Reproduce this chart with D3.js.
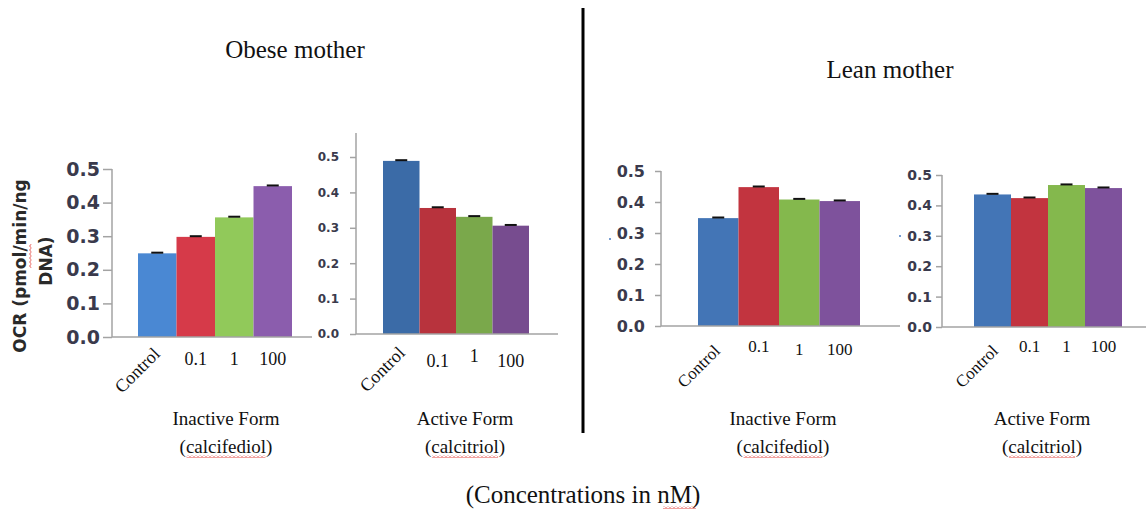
<!DOCTYPE html>
<html>
<head>
<meta charset="utf-8">
<script src="https://cdn.jsdelivr.net/npm/d3@7"></script>
<style>
  html, body { margin: 0; padding: 0; background: #fff; }
  svg { display: block; }
</style>
</head>
<body>
<svg id="chart" width="1146" height="514"></svg>
<script>
// ---------- data ----------
const categories = ["Control", "0.1", "1", "100"];
const yTickValues = [0, 0.1, 0.2, 0.3, 0.4, 0.5];
const obeseInactive = [0.249, 0.298, 0.356, 0.449];
const obeseActive   = [0.489, 0.356, 0.331, 0.306];
const leanInactive  = [0.348, 0.448, 0.408, 0.403];
const leanActive    = [0.436, 0.424, 0.467, 0.457];
const obeseInactiveErr = [0.002, 0.002, 0.002, 0.002];
const obeseActiveErr   = [0.002, 0.002, 0.002, 0.002];
const leanInactiveErr  = [0.002, 0.002, 0.002, 0.002];
const leanActiveErr    = [0.002, 0.002, 0.002, 0.002];
const groupTitles = ["Obese mother", "Lean mother"];
const formLabels = [["Inactive Form", "(calcifediol)"], ["Active Form", "(calcitriol)"]];
const yTitleLines = ["OCR (pmol/min/ng", "DNA)"];
const xTitle = "(Concentrations in nM)";

// ---------- layout ----------
const panels = [
  { values: obeseInactive, errs: obeseInactiveErr, form: 0,
    axisX: 112, y0: 337, y5: 169, axisTop: 169, baseEnd: 312,
    bandL: 138, bandR: 292, tickSize: 9, tickPad: 3, tickFont: 19,
    colors: ["#4a88d3", "#d63a49", "#91c95a", "#8b5dad"],
    labBase: [365, 365, 365, 365], ctrl: [161, 355], labFont: 18, formX: 226 },
  { values: obeseActive, errs: obeseActiveErr, form: 1,
    axisX: 356, y0: 334, y5: 157, axisTop: 133, baseEnd: 558,
    bandL: 383, bandR: 529, tickSize: 6, tickPad: 11, tickFont: 12,
    colors: ["#3b6ba7", "#b8333d", "#7aa84b", "#774c8f"],
    labBase: [367, 367, 362, 367], ctrl: [406, 354], labFont: 18, formX: 465 },
  { values: leanInactive, errs: leanInactiveErr, form: 0,
    axisX: 661, y0: 326, y5: 171, axisTop: 171, baseEnd: 900,
    bandL: 698, bandR: 860, tickSize: 6, tickPad: 10, tickFont: 16,
    colors: ["#4375b6", "#c2343f", "#84b84d", "#7e529c"],
    labBase: [352, 352, 355, 355], ctrl: [721, 352], labFont: 17, formX: 783 },
  { values: leanActive, errs: leanActiveErr, form: 1,
    axisX: 942, y0: 327, y5: 175, axisTop: 175, baseEnd: 1146,
    bandL: 974, bandR: 1122, tickSize: 6, tickPad: 4, tickFont: 14,
    colors: ["#4375b6", "#c2343f", "#84b84d", "#7e529c"],
    labBase: [352, 352, 352, 352], ctrl: [999, 352], labFont: 17, formX: 1042 }
];

const svg = d3.select("#chart");
const serif = "'Liberation Serif', 'Times New Roman', serif";
const sans = "'DejaVu Sans', sans-serif";
const axisColor = "#a3a3a3";

// wavy underline pattern
const defs = svg.append("defs");
const pat = defs.append("pattern").attr("id", "wavy")
  .attr("patternUnits", "userSpaceOnUse").attr("width", 4).attr("height", 3);
pat.append("path").attr("d", "M0,2.5 L2,0.5 L4,2.5")
  .attr("fill", "none").attr("stroke", "#e0302a").attr("stroke-width", 0.9);

panels.forEach(p => {
  const y = d3.scaleLinear().domain([0, 0.5]).range([p.y0, p.y5]);
  const x = d3.scaleBand().domain(categories).range([p.bandL, p.bandR]).padding(0);
  const g = svg.append("g");

  // bars
  g.selectAll("rect.bar").data(p.values).join("rect")
    .attr("class", "bar")
    .attr("x", (d, i) => x(categories[i]))
    .attr("width", x.bandwidth())
    .attr("y", d => y(d))
    .attr("height", d => y(0) - y(d))
    .attr("fill", (d, i) => p.colors[i]);

  // error caps
  g.selectAll("line.err").data(p.values).join("line")
    .attr("class", "err")
    .attr("x1", (d, i) => x(categories[i]) + x.bandwidth() / 2 - 6)
    .attr("x2", (d, i) => x(categories[i]) + x.bandwidth() / 2 + 6)
    .attr("y1", (d, i) => y(d + p.errs[i]))
    .attr("y2", (d, i) => y(d + p.errs[i]))
    .attr("stroke", "#111").attr("stroke-width", 2);

  // y axis
  const ax = d3.axisLeft(y).tickValues(yTickValues).tickFormat(d3.format(".1f"))
    .tickSize(p.tickSize).tickSizeOuter(0).tickPadding(p.tickPad);
  const ag = g.append("g").attr("transform", `translate(${p.axisX},0)`).call(ax);
  ag.select(".domain").remove();
  ag.selectAll(".tick line").attr("stroke", axisColor).attr("stroke-width", 1.5);
  ag.selectAll(".tick text")
    .attr("font-family", sans).attr("font-weight", "bold")
    .attr("font-size", p.tickFont).attr("fill", "#3a3a4c");

  // axis lines
  g.append("line").attr("x1", p.axisX).attr("x2", p.axisX)
    .attr("y1", p.axisTop).attr("y2", p.y0)
    .attr("stroke", axisColor).attr("stroke-width", 1.5);
  g.append("line").attr("x1", p.axisX).attr("x2", p.baseEnd)
    .attr("y1", p.y0).attr("y2", p.y0)
    .attr("stroke", axisColor).attr("stroke-width", 1.5);

  // category labels
  categories.forEach((c, i) => {
    if (i === 0) {
      g.append("text").text(c)
        .attr("transform", `translate(${p.ctrl[0]},${p.ctrl[1]}) rotate(-45)`)
        .attr("text-anchor", "end")
        .attr("font-family", serif).attr("font-size", p.labFont).attr("fill", "#111");
    } else {
      g.append("text").text(c)
        .attr("x", x(c) + x.bandwidth() / 2).attr("y", p.labBase[i])
        .attr("text-anchor", "middle")
        .attr("font-family", serif).attr("font-size", p.labFont).attr("fill", "#111");
    }
  });

  // form labels
  const fl = formLabels[p.form];
  g.append("text").text(fl[0]).attr("x", p.formX).attr("y", 425)
    .attr("text-anchor", "middle").attr("font-family", serif)
    .attr("font-size", 19).attr("fill", "#111");
  const t2 = g.append("text").text(fl[1]).attr("x", p.formX).attr("y", 453)
    .attr("text-anchor", "middle").attr("font-family", serif)
    .attr("font-size", 19).attr("fill", "#111");
  const bb = t2.node().getBBox();
  g.append("rect").attr("x", bb.x + 7).attr("y", 455)
    .attr("width", bb.width - 14).attr("height", 3).attr("fill", "url(#wavy)");
});

// group titles
svg.append("text").text(groupTitles[0]).attr("x", 295).attr("y", 58)
  .attr("text-anchor", "middle").attr("font-family", serif)
  .attr("font-size", 25).attr("fill", "#111");
svg.append("text").text(groupTitles[1]).attr("x", 890).attr("y", 78)
  .attr("text-anchor", "middle").attr("font-family", serif)
  .attr("font-size", 25).attr("fill", "#111");

// separator
svg.append("line").attr("x1", 583).attr("x2", 583).attr("y1", 8).attr("y2", 433)
  .attr("stroke", "#000").attr("stroke-width", 3);

// y title
yTitleLines.forEach((t, i) => {
  svg.append("text").text(t)
    .attr("transform", `translate(${i === 0 ? 26 : 52},${i === 0 ? 266 : 261}) rotate(-90)`)
    .attr("text-anchor", "middle").attr("font-family", sans)
    .attr("font-weight", "bold").attr("font-size", 17).attr("fill", "#2a2a2a");
});
svg.append("rect").attr("transform", "translate(29,268) rotate(-90)")
  .attr("width", 24).attr("height", 3).attr("fill", "url(#wavy)");

// bottom title
svg.append("text").text(xTitle).attr("x", 583).attr("y", 503)
  .attr("text-anchor", "middle").attr("font-family", serif)
  .attr("font-size", 25).attr("fill", "#111");
svg.append("rect").attr("x", 663).attr("y", 506).attr("width", 33).attr("height", 3)
  .attr("fill", "url(#wavy)");

// tiny specks present in the original
svg.append("circle").attr("cx", 610).attr("cy", 239).attr("r", 1).attr("fill", "#4a7bc0");
svg.append("circle").attr("cx", 900).attr("cy", 236).attr("r", 1).attr("fill", "#4a7bc0");
</script>
</body>
</html>
